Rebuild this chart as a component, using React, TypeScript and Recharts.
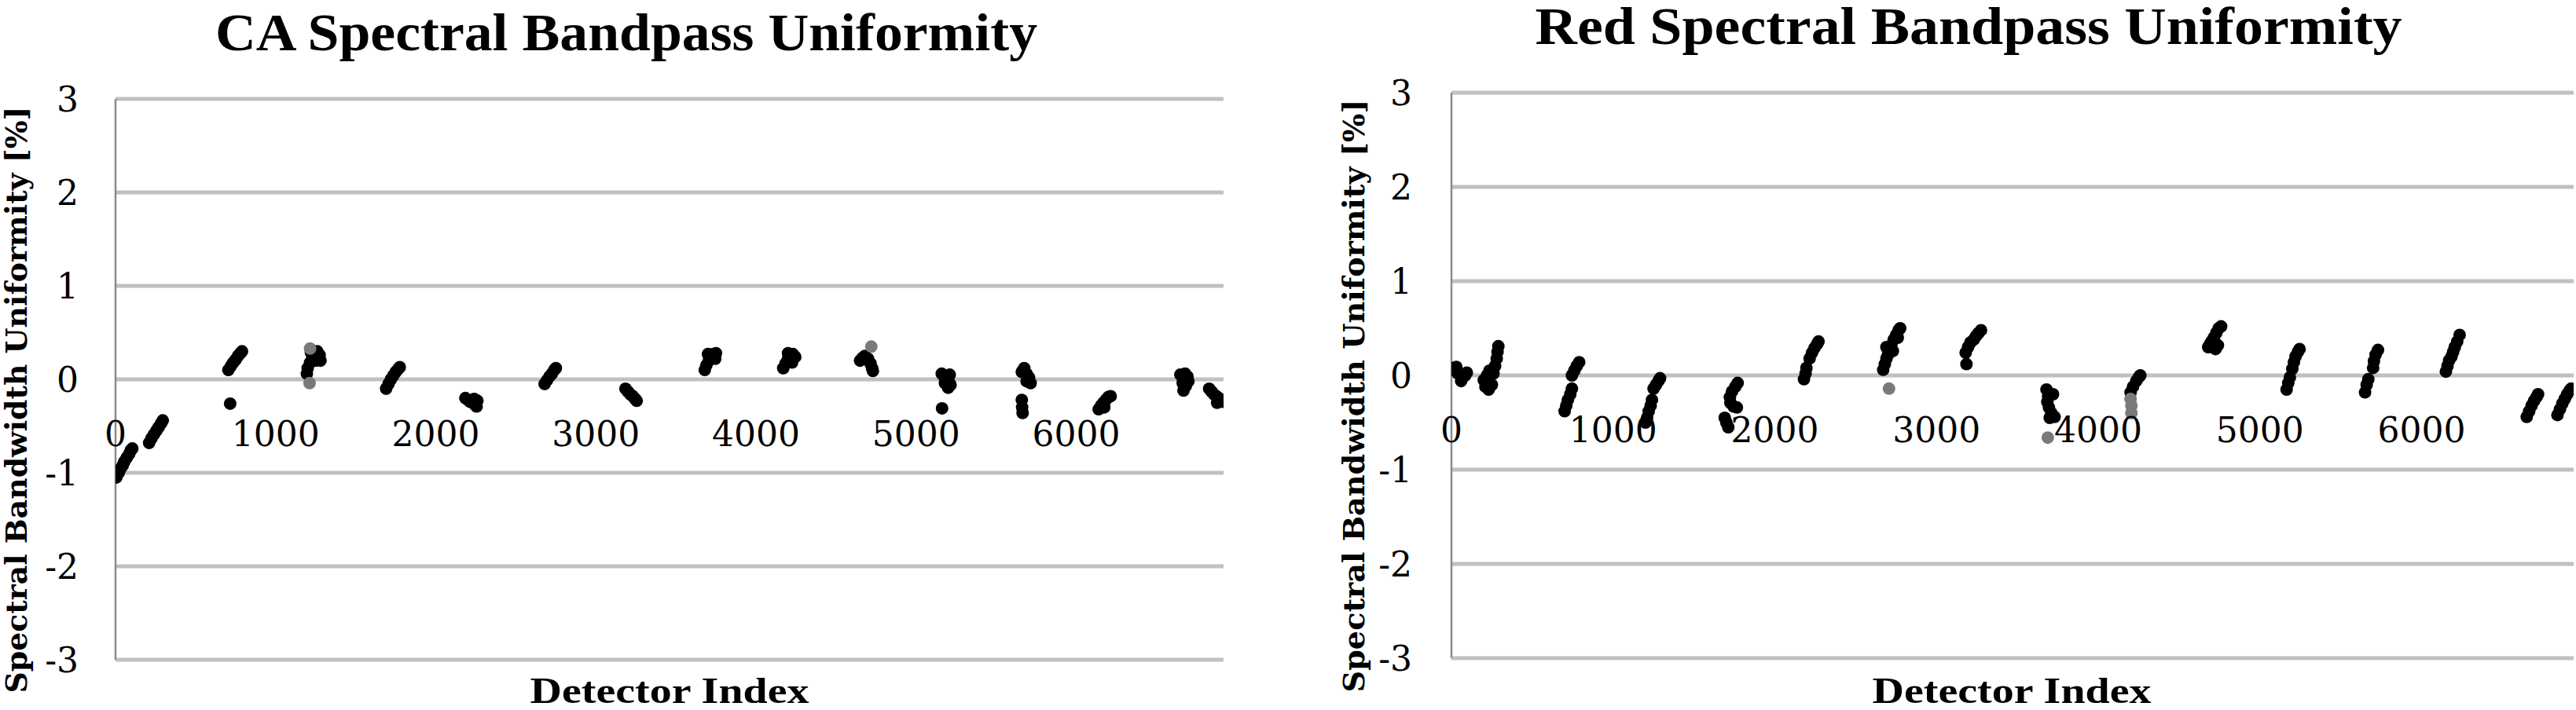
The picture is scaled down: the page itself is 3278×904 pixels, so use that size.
import React from "react";
import { ScatterChart, Scatter, XAxis, YAxis, CartesianGrid } from "recharts";

const X_TICKS = [0, 1000, 2000, 3000, 4000, 5000, 6000];
const Y_TICKS = [-3, -2, -1, 0, 1, 2, 3];

// CA band, [detector index, uniformity %]
const CA_BLACK: [number, number][] = [
  [5, -1.05], [20, -1.0], [30, -0.96], [45, -0.92], [55, -0.88], [70, -0.84], [85, -0.8], [95, -0.76], [105, -0.74],
  [210, -0.68], [225, -0.63], [240, -0.59], [255, -0.55], [270, -0.51], [285, -0.47], [295, -0.44],
  [705, 0.1], [720, 0.14], [735, 0.18], [750, 0.21], [765, 0.25], [780, 0.28], [790, 0.3], [716, -0.26],
  [1195, 0.06], [1200, 0.12], [1215, 0.18], [1230, 0.24], [1245, 0.28], [1260, 0.3], [1275, 0.26], [1280, 0.2], [1250, 0.2], [1220, 0.29],
  [1690, -0.1], [1705, -0.05], [1720, 0.0], [1735, 0.04], [1750, 0.08], [1765, 0.11], [1775, 0.13],
  [2185, -0.2], [2200, -0.22], [2215, -0.24], [2230, -0.25], [2245, -0.27], [2255, -0.29], [2240, -0.21], [2260, -0.23],
  [2680, -0.05], [2695, -0.01], [2710, 0.03], [2725, 0.06], [2740, 0.1], [2750, 0.12],
  [3185, -0.1], [3200, -0.13], [3215, -0.16], [3230, -0.18], [3245, -0.21], [3255, -0.23],
  [3680, 0.1], [3690, 0.15], [3705, 0.2], [3720, 0.24], [3735, 0.27], [3750, 0.28], [3745, 0.22], [3700, 0.27],
  [4170, 0.12], [4185, 0.17], [4200, 0.22], [4215, 0.25], [4230, 0.27], [4245, 0.24], [4200, 0.28], [4225, 0.18],
  [4650, 0.2], [4665, 0.23], [4680, 0.25], [4700, 0.22], [4715, 0.17], [4725, 0.12], [4730, 0.09],
  [5160, 0.06], [5175, 0.03], [5190, 0.0], [5205, -0.03], [5215, -0.06], [5200, -0.09], [5180, -0.04], [5210, 0.05], [5162, -0.31],
  [5660, 0.08], [5675, 0.12], [5690, 0.06], [5705, 0.02], [5715, -0.04], [5690, -0.02], [5660, -0.22], [5662, -0.3], [5665, -0.36],
  [6140, -0.32], [6155, -0.28], [6170, -0.25], [6185, -0.22], [6200, -0.19], [6215, -0.18], [6175, -0.3],
  [6650, 0.05], [6665, 0.02], [6680, 0.06], [6695, 0.03], [6700, -0.02], [6685, -0.07], [6670, -0.12], [6665, -0.04],
  [6830, -0.1], [6845, -0.13], [6860, -0.16], [6875, -0.18], [6890, -0.2], [6905, -0.22], [6915, -0.24], [6880, -0.25],
];
const CA_GREY: [number, number][] = [
  [1212, -0.04], [1215, 0.33], [4720, 0.35],
];

// Red band
const RED_BLACK: [number, number][] = [
  [10, 0.08], [25, 0.05], [40, 0.02], [55, 0.0], [70, -0.02], [85, 0.0], [95, 0.03], [60, -0.06], [30, 0.09],
  [200, -0.05], [210, -0.12], [220, 0.0], [235, 0.05], [250, -0.1], [260, 0.02], [270, 0.1], [280, 0.18], [285, 0.25], [290, 0.31], [230, -0.15],
  [745, 0.0], [760, 0.05], [775, 0.1], [790, 0.14], [700, -0.38], [710, -0.32], [720, -0.26], [735, -0.2], [745, -0.14],
  [1250, -0.14], [1265, -0.1], [1280, -0.06], [1290, -0.03], [1200, -0.5], [1210, -0.45], [1220, -0.38], [1232, -0.32], [1240, -0.26],
  [1770, -0.08], [1755, -0.12], [1735, -0.17], [1722, -0.23], [1725, -0.29], [1745, -0.33], [1765, -0.34], [1690, -0.45], [1700, -0.5], [1712, -0.55],
  [2180, -0.04], [2190, 0.02], [2195, 0.08], [2215, 0.18], [2230, 0.24], [2245, 0.29], [2260, 0.33], [2270, 0.36],
  [2670, 0.06], [2680, 0.12], [2690, 0.18], [2700, 0.22], [2710, 0.28], [2720, 0.32], [2735, 0.38], [2750, 0.43], [2765, 0.48], [2775, 0.5], [2730, 0.26], [2690, 0.3], [2760, 0.4],
  [3180, 0.24], [3195, 0.3], [3210, 0.35], [3230, 0.38], [3245, 0.42], [3260, 0.45], [3275, 0.48], [3185, 0.12],
  [3680, -0.15], [3690, -0.22], [3685, -0.28], [3695, -0.34], [3710, -0.4], [3730, -0.44], [3720, -0.2], [3700, -0.45],
  [4200, -0.18], [4215, -0.12], [4235, -0.06], [4250, -0.02], [4260, 0.0],
  [4680, 0.3], [4690, 0.33], [4700, 0.36], [4715, 0.4], [4730, 0.45], [4745, 0.5], [4760, 0.52], [4740, 0.32], [4725, 0.28],
  [5200, 0.07], [5210, 0.14], [5220, 0.2], [5235, 0.25], [5245, 0.28], [5165, -0.15], [5175, -0.08], [5185, -0.02],
  [5700, 0.08], [5705, 0.15], [5715, 0.22], [5730, 0.27], [5650, -0.18], [5660, -0.1], [5670, -0.04],
  [6150, 0.04], [6160, 0.1], [6170, 0.16], [6185, 0.2], [6195, 0.25], [6205, 0.3], [6220, 0.36], [6235, 0.43],
  [6650, -0.44], [6665, -0.38], [6680, -0.32], [6695, -0.27], [6710, -0.23], [6720, -0.2],
  [6840, -0.42], [6855, -0.36], [6870, -0.3], [6885, -0.25], [6900, -0.2], [6915, -0.16], [6925, -0.14],
];
const RED_GREY: [number, number][] = [
  [2706, -0.14], [3688, -0.66], [4200, -0.25], [4205, -0.32], [4205, -0.4],
];

const toRows = (pts: [number, number][]) => pts.map(([x, y]) => ({ x, y }));

const DIGITS = "'DejaVu Serif', serif";
const HEAD = "'Liberation Serif', serif";

const dot = (fill: string) => (p: any) => <circle cx={p.cx} cy={p.cy} r={8} fill={fill} />;

const LEFT_PANEL = {
  left: 0, width: 1640, height: 904,
  plotLeft: 147, plotRight: 1557, plotTop: 126, plotBottom: 840, xMax: 6920,
  tickGap: 47,
  title: { x: 797, y: 64, len: 1046 },
  yTitle: { x: 34, y: 509, len: 747 },
  xTitle: { x: 852, y: 895, len: 355 },
};

const RIGHT_PANEL = {
  left: 1640, width: 1638, height: 904,
  plotLeft: 207, plotRight: 1635, plotTop: 118, plotBottom: 838, xMax: 6940,
  tickGap: 50,
  title: { x: 865, y: 56, len: 1103 },
  yTitle: { x: 96, y: 504, len: 755 },
  xTitle: { x: 920, y: 895, len: 355 },
};

function Panel({ cfg, title, black, grey }: any) {
  const zeroY = (cfg.plotTop + cfg.plotBottom) / 2; // y domain is symmetric
  return (
    <div style={{ position: "absolute", left: cfg.left, top: 0, width: cfg.width, height: cfg.height }}>
      <ScatterChart
        width={cfg.width}
        height={cfg.height}
        margin={{ top: cfg.plotTop, right: cfg.width - cfg.plotRight, bottom: 0, left: 0 }}
      >
        <CartesianGrid vertical={false} stroke="#c0c0c0" strokeWidth={5} />
        <XAxis
          type="number"
          dataKey="x"
          domain={[0, cfg.xMax]}
          ticks={X_TICKS}
          height={cfg.height - cfg.plotBottom}
          axisLine={false}
          tickLine={false}
          allowDataOverflow
          tick={(p: any) => (
            <text x={p.x} y={zeroY + 85} textAnchor="middle" fontFamily={DIGITS} fontSize={44} fill="#000">
              {p.payload.value}
            </text>
          )}
        />
        <YAxis
          type="number"
          dataKey="y"
          domain={[-3, 3]}
          ticks={Y_TICKS}
          width={cfg.plotLeft}
          axisLine={{ stroke: "#8a8a8a", strokeWidth: 2.5 }}
          tickLine={false}
          tick={(p: any) => (
            <text x={cfg.plotLeft - cfg.tickGap} y={p.y} dy="0.36em" textAnchor="end" fontFamily={DIGITS} fontSize={44} fill="#000">
              {p.payload.value}
            </text>
          )}
        />
        <Scatter data={toRows(black)} shape={dot("#000")} isAnimationActive={false} />
        <Scatter data={toRows(grey)} shape={dot("#7a7a7a")} isAnimationActive={false} />
      </ScatterChart>
      <svg width={cfg.width} height={cfg.height} style={{ position: "absolute", left: 0, top: 0, pointerEvents: "none" }}>
        <text x={cfg.title.x} y={cfg.title.y} textAnchor="middle" fontFamily={HEAD} fontWeight="bold" fontSize={68}
          textLength={cfg.title.len} lengthAdjust="spacingAndGlyphs">
          {title}
        </text>
        <text x={cfg.yTitle.x} y={cfg.yTitle.y} textAnchor="middle" fontFamily={DIGITS} fontWeight="bold" fontSize={38}
          transform={`rotate(-90, ${cfg.yTitle.x}, ${cfg.yTitle.y})`}
          textLength={cfg.yTitle.len} lengthAdjust="spacingAndGlyphs">
          Spectral Bandwidth Uniformity [%]
        </text>
        <text x={cfg.xTitle.x} y={cfg.xTitle.y} textAnchor="middle" fontFamily={HEAD} fontWeight="bold" fontSize={46}
          textLength={cfg.xTitle.len} lengthAdjust="spacingAndGlyphs">
          Detector Index
        </text>
      </svg>
    </div>
  );
}

export default function App() {
  return (
    <div style={{ position: "absolute", left: 0, top: 0, width: 3278, height: 904, background: "#fff" }}>
      <Panel cfg={LEFT_PANEL} title="CA Spectral Bandpass Uniformity" black={CA_BLACK} grey={CA_GREY} />
      <Panel cfg={RIGHT_PANEL} title="Red Spectral Bandpass Uniformity" black={RED_BLACK} grey={RED_GREY} />
    </div>
  );
}
